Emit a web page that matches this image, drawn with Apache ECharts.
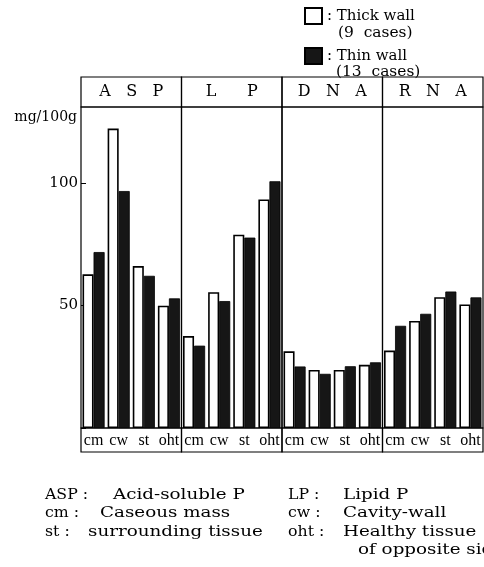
<!DOCTYPE html>
<html lang="en">
<head>
  <meta charset="UTF-8">
  <title>Phosphorus fractions</title>
  <script src="https://cdn.jsdelivr.net/npm/echarts@6/dist/echarts.min.js"></script>
  <style>
    html, body { margin: 0; padding: 0; background: #fff; }
    #main { width: 484px; height: 567px; }
  </style>
</head>
<body>
<div id="main"></div>
<script>
  // data (mg/100g)
  var categories = ['cm', 'cw', 'st', 'oht'];
  var panels = ['A   S   P', 'L      P', 'D   N   A', 'R   N   A'];
  var yTicks = [50, 100];

  var thickASP = [62.7, 122.2, 66.1, 49.9];
  var thinASP  = [71.8, 96.7, 62.1, 52.9];
  var thickLP  = [37.5, 55.4, 78.9, 93.3];
  var thinLP   = [33.6, 51.8, 77.7, 100.7];
  var thickDNA = [31.3, 23.7, 23.7, 25.8];
  var thinDNA  = [25.1, 22.1, 25.2, 26.8];
  var thickRNA = [31.6, 43.7, 53.4, 50.4];
  var thinRNA  = [41.7, 46.6, 55.7, 53.3];

  var thickWall = [thickASP, thickLP, thickDNA, thickRNA];
  var thinWall  = [thinASP, thinLP, thinDNA, thinRNA];

  // layout
  var serif = 'DejaVu Serif';
  var narrow = 'Liberation Serif';
  var left0 = 81, panelW = 100.5;
  var headTop = 77, plotTop = 107, plotBottom = 428, rowBottom = 452;
  var yMax = 131;

  var chart = echarts.init(document.getElementById('main'));

  function txt(s, x, y, size, sx, align) {
    return {
      type: 'text', x: x, y: y, scaleX: sx || 1,
      style: {
        text: s, fill: '#000', font: size + 'px "' + serif + '"',
        align: align || 'left', verticalAlign: 'middle'
      }
    };
  }

  var grids = [], xAxes = [], yAxes = [], series = [], graphics = [];
  panels.forEach(function (p, i) {
    var x = left0 + i * panelW;
    grids.push({
      left: x, width: panelW, top: plotTop, height: plotBottom - plotTop,
      show: true, borderColor: '#000', borderWidth: 1.2, backgroundColor: 'transparent'
    });
    xAxes.push({
      type: 'category', gridIndex: i, data: categories,
      axisLine: { show: false }, axisTick: { show: false },
      axisLabel: { interval: 0, margin: 5, color: '#000', fontFamily: narrow, fontSize: 16 }
    });
    yAxes.push({
      type: 'value', gridIndex: i, min: 0, max: yMax, interval: 50,
      show: i === 0,
      splitLine: { show: false },
      axisLine: { show: false },
      axisTick: { show: true, inside: true, length: 5, lineStyle: { color: '#000' } },
      axisLabel: {
        color: '#000', fontFamily: serif, fontSize: 15, margin: 3,
        showMaxLabel: false,
        formatter: function (v) { return yTicks.indexOf(v) >= 0 ? String(v) : ''; }
      }
    });
    series.push({
      name: 'Thick wall', type: 'bar', xAxisIndex: i, yAxisIndex: i,
      data: thickWall[i], barGap: '0%', barCategoryGap: '12%',
      itemStyle: { color: '#fff', borderColor: '#000', borderWidth: 1.6 }
    });
    series.push({
      name: 'Thin wall', type: 'bar', xAxisIndex: i, yAxisIndex: i,
      data: thinWall[i], barGap: '0%', barCategoryGap: '12%',
      itemStyle: { color: '#161616', borderColor: '#000', borderWidth: 0.8 }
    });
    // header box and label row box
    graphics.push({
      type: 'rect', shape: { x: x, y: headTop, width: panelW, height: plotTop - headTop },
      style: { fill: 'none', stroke: '#000', lineWidth: 1.2 }
    });
    graphics.push(txt(p, x + panelW / 2, (headTop + plotTop) / 2, 16, 1, 'center'));
    graphics.push({
      type: 'rect', shape: { x: x, y: plotBottom, width: panelW, height: rowBottom - plotBottom },
      style: { fill: 'none', stroke: '#000', lineWidth: 1.2 }
    });
  });

  // unit label
  graphics.push(txt('mg/100g', 77, 117, 14, 1, 'right'));

  // legend case counts
  graphics.push(txt('(9  cases)', 338, 33, 15, 1.03));
  graphics.push(txt('(13  cases)', 336, 72, 15, 1.03));

  // key text below the chart
  var notes = [
    ['ASP :', 45, 'Acid-soluble P', 113, 495],
    ['cm :', 45, 'Caseous mass', 100, 513],
    ['st :', 45, 'surrounding tissue', 88, 532],
    ['LP :', 288, 'Lipid P', 343, 495],
    ['cw :', 288, 'Cavity-wall', 343, 513],
    ['oht :', 288, 'Healthy tissue', 343, 532],
    ['', 288, 'of opposite side', 358, 550]
  ];
  notes.forEach(function (n) {
    if (n[0]) graphics.push(txt(n[0], n[1], n[4], 15, 1.05));
    graphics.push(txt(n[2], n[3], n[4], 15, 1.22));
  });

  var option = {
    animation: false,
    backgroundColor: '#fff',
    legend: {
      data: ['Thick wall', 'Thin wall'],
      orient: 'vertical', left: 304, top: 7, padding: 0,
      itemWidth: 17, itemHeight: 16, itemGap: 22,
      icon: 'rect',
      formatter: function (name) { return ': ' + name; },
      textStyle: { color: '#000', fontFamily: serif, fontSize: 15 }
    },
    grid: grids,
    xAxis: xAxes,
    yAxis: yAxes,
    series: series,
    graphic: graphics
  };

  option && chart.setOption(option);
</script>
</body>
</html>
